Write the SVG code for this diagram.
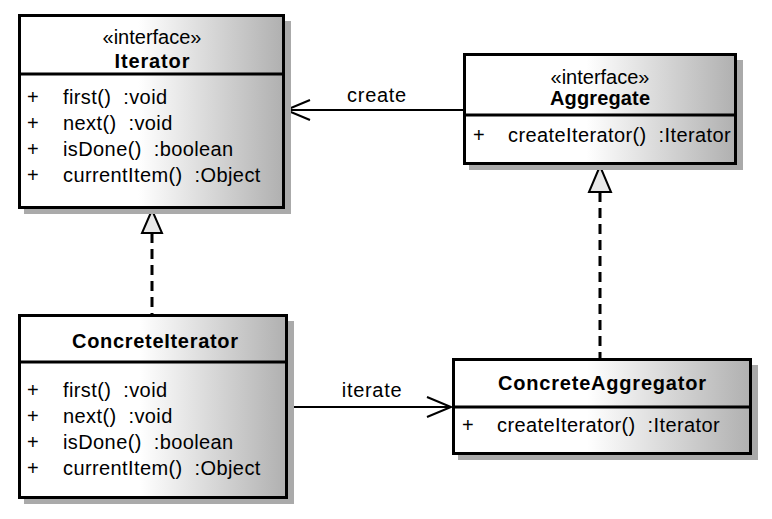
<svg xmlns="http://www.w3.org/2000/svg" width="772" height="519" viewBox="0 0 772 519">
<defs>
<linearGradient id="g" x1="0" y1="0" x2="1" y2="0">
<stop offset="0" stop-color="#ffffff"/>
<stop offset="0.45" stop-color="#ffffff"/>
<stop offset="1" stop-color="#b0b0b0"/>
</linearGradient>
<style>
.shadow{fill:#aaaaaa;stroke:none}
.box{fill:url(#g);stroke:#000;stroke-width:3}
.div{stroke:#000;stroke-width:3}
text{font-family:"Liberation Sans",Arial,sans-serif;font-size:20px;fill:#000;white-space:pre}
.st{text-anchor:middle}
.title{text-anchor:middle;font-weight:bold}
.m{letter-spacing:0.4px}
.lbl{text-anchor:middle;letter-spacing:0.7px}
.assoc{stroke:#000;stroke-width:2;fill:none}
.real{stroke:#000;stroke-width:3;stroke-dasharray:10 6;fill:none}
.tri{fill:#e8e8e8;stroke:#000;stroke-width:2}
</style>
</defs>
<rect width="772" height="519" fill="#fff"/>
<g id="connectors">
<line class="assoc" x1="463" y1="110" x2="286" y2="110"/>
<polyline class="assoc" points="310,100 286,110 310,120"/>
<text class="lbl" x="377" y="102">create</text>
<line class="assoc" x1="288" y1="407" x2="451" y2="407"/>
<polyline class="assoc" points="427,397 451,407 427,417"/>
<text class="lbl" x="372" y="397">iterate</text>
<line class="real" x1="152" y1="233" x2="152" y2="314"/>
<polygon class="tri" points="152,210 142,233 162,233"/>
<line class="real" x1="600" y1="192" x2="600" y2="358"/>
<polygon class="tri" points="600,166 589,192 611,192"/>
</g>
<g id="Iterator">
<rect class="shadow" x="24" y="21" width="267" height="193"/>
<rect class="box" x="19.5" y="15.5" width="264" height="192"/>
<line class="div" x1="19.5" y1="74" x2="283.5" y2="74"/>
<text class="st" x="152" y="44">«interface»</text>
<text class="title" x="152" y="68" textLength="75" lengthAdjust="spacing">Iterator</text>
<text x="27" y="104">+</text><text class="m" x="63" y="104">first()  :void</text>
<text x="27" y="130">+</text><text class="m" x="63" y="130">next()  :void</text>
<text x="27" y="156">+</text><text class="m" x="63" y="156">isDone()  :boolean</text>
<text x="27" y="182">+</text><text class="m" x="63" y="182">currentItem()  :Object</text>
</g>
<g id="Aggregate">
<rect class="shadow" x="469" y="60" width="274" height="110"/>
<rect class="box" x="464.5" y="54.5" width="271" height="109"/>
<line class="div" x1="464.5" y1="115" x2="735.5" y2="115"/>
<text class="st" x="600" y="84">«interface»</text>
<text class="title" x="600" y="105" textLength="100" lengthAdjust="spacing">Aggregate</text>
<text x="473" y="142">+</text><text class="m" x="508" y="142">createIterator()  :Iterator</text>
</g>
<g id="ConcreteIterator">
<rect class="shadow" x="24" y="321" width="270" height="183"/>
<rect class="box" x="19.5" y="315.5" width="267" height="182"/>
<line class="div" x1="19.5" y1="362" x2="286.5" y2="362"/>
<text class="title" x="155" y="348" textLength="166" lengthAdjust="spacing">ConcreteIterator</text>
<text x="27" y="397">+</text><text class="m" x="63" y="397">first()  :void</text>
<text x="27" y="423">+</text><text class="m" x="63" y="423">next()  :void</text>
<text x="27" y="449">+</text><text class="m" x="63" y="449">isDone()  :boolean</text>
<text x="27" y="475">+</text><text class="m" x="63" y="475">currentItem()  :Object</text>
</g>
<g id="ConcreteAggregator">
<rect class="shadow" x="458" y="365" width="300" height="95"/>
<rect class="box" x="453.5" y="359.5" width="297" height="94"/>
<line class="div" x1="453.5" y1="407" x2="750.5" y2="407"/>
<text class="title" x="602" y="390" textLength="208" lengthAdjust="spacing">ConcreteAggregator</text>
<text x="462" y="432">+</text><text class="m" x="497" y="432">createIterator()  :Iterator</text>
</g>
</svg>
